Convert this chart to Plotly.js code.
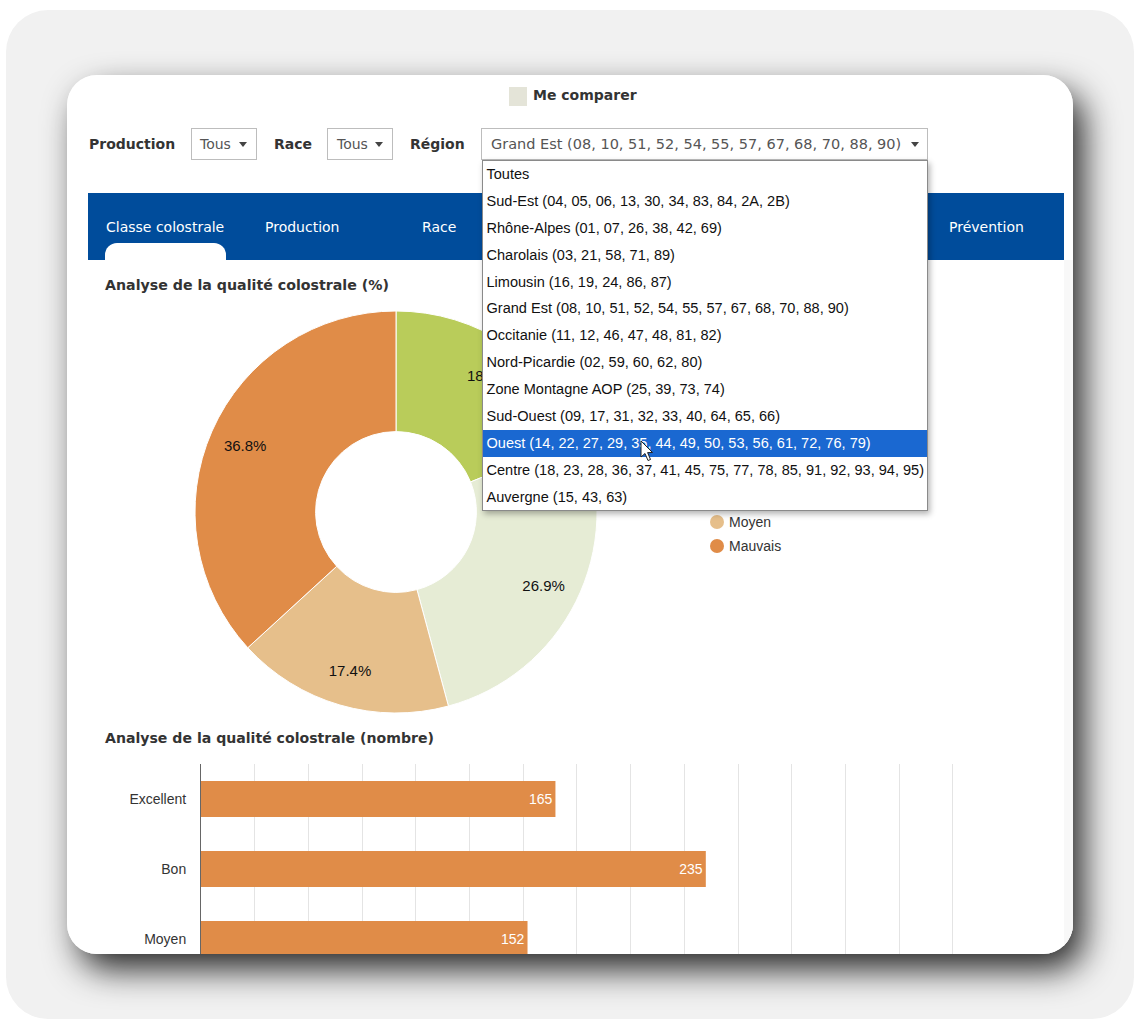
<!DOCTYPE html>
<html lang="fr"><head><meta charset="utf-8">
<script src="https://cdn.plot.ly/plotly-3.0.1.min.js"></script>
<style>
html,body{margin:0;padding:0;background:#fff;width:1140px;height:1029px;overflow:hidden}
#outer{position:absolute;left:6px;top:10px;width:1128px;height:1009px;background:#f1f1f1;border-radius:42px}
#shadow{position:absolute;left:67px;top:75px;width:1006px;height:879px;border-radius:30px;box-shadow:11px 16px 34px -1px rgba(0,0,0,.85)}
#card{position:absolute;left:67px;top:75px;width:1006px;height:879px;border-radius:30px;background:#fff;overflow:hidden}
#card>*{position:absolute}
.v{font-family:"DejaVu Sans",sans-serif;font-size:14px;white-space:nowrap}
.b{font-weight:bold;color:#333}
.sel{box-sizing:border-box;background:#fff;border:1px solid #bdbdbd;height:32px;line-height:30px;color:#555;font-family:"DejaVu Sans",sans-serif;font-size:14px;white-space:nowrap}
.caret{position:absolute;top:13px;width:0;height:0;border-left:4.5px solid transparent;border-right:4.5px solid transparent;border-top:5px solid #444}
#dd{box-sizing:border-box;left:415px;top:85px;width:446px;height:351px;background:#fff;border:1px solid #8a8a8a;box-shadow:2px 3px 6px rgba(0,0,0,.3);z-index:5}
#dd div{height:26.9px;line-height:26.9px;padding-left:3.5px;font-family:"Liberation Sans",Arial,sans-serif;font-size:14.55px;color:#111;white-space:nowrap;box-sizing:border-box}
#dd div.on{background:#1a68d1;color:#fff}
#band{left:21px;top:118px;width:976px;height:67px;background:#004c9b}
#band span{position:absolute;top:26px;line-height:16px;color:#fff;font-family:"DejaVu Sans",sans-serif;font-size:14px;white-space:nowrap}
#notch{position:absolute;left:17px;top:50px;width:121px;height:17px;background:#fff;border-radius:12px 12px 0 0}
#strip{left:997px;top:185px;width:9px;height:694px;background:#f8f8f8}
#pie{left:21px;top:187px;width:976px;height:468px}
#bars{left:21px;top:650px;width:976px;height:329px}
#cursor{left:573px;top:365px;z-index:6}
</style></head><body>
<div id="outer"></div><div id="shadow"></div>
<div id="card">
  <div id="strip"></div>
  <div style="left:442px;top:12px;width:18px;height:19px;background:#e4e4d8"></div>
  <div class="v b" style="left:466px;top:12px;line-height:17px;font-size:14px">Me comparer</div>
  <div class="v b" style="left:22px;top:61px;line-height:17px">Production</div>
  <div class="sel" style="left:124px;top:53px;width:66px;padding-left:8px">Tous<span class="caret" style="left:47px"></span></div>
  <div class="v b" style="left:207px;top:61px;line-height:17px">Race</div>
  <div class="sel" style="left:260px;top:53px;width:66px;padding-left:9px">Tous<span class="caret" style="left:47px"></span></div>
  <div class="v b" style="left:343px;top:61px;line-height:17px">Région</div>
  <div class="sel" id="regsel" style="left:414px;top:53px;width:447px;padding-left:9px;font-size:14.5px"></div>
  <div id="band"><div id="notch"></div></div>
  <div id="pie"></div>
  <div id="bars"></div>
  <div id="dd"></div>
  <svg id="cursor" width="16" height="24" viewBox="0 0 16 24"><path d="M1 1 L1 17 L5 13.5 L8 20.5 L10.5 19.5 L7.6 12.6 L12.5 12.5 Z" fill="#fff" stroke="#222" stroke-width="1"/></svg>
</div>
<script>
const categories = ["Excellent", "Bon", "Moyen", "Mauvais"];
const percents = [18.9, 26.9, 17.4, 36.8];
const sliceColors = ["#b9cc5a", "#e6ecd5", "#e6bf8b", "#e08c48"];
const legendCategories = ["Moyen", "Mauvais"];
const legendColors = ["#e6bf8b", "#e08c48"];
const legendRows = [260, 284];
const barCategories = ["Excellent", "Bon", "Moyen"];
const counts = [165, 235, 152];
const barColor = "#e08c48";
const pieTitle = "Analyse de la qualité colostrale (%)";
const barTitle = "Analyse de la qualité colostrale (nombre)";
const tabs = [["Classe colostrale", 18], ["Production", 177], ["Race", 334], ["Prévention", 861]];
const regions = ["Toutes",
 "Sud-Est (04, 05, 06, 13, 30, 34, 83, 84, 2A, 2B)",
 "Rhône-Alpes (01, 07, 26, 38, 42, 69)",
 "Charolais (03, 21, 58, 71, 89)",
 "Limousin (16, 19, 24, 86, 87)",
 "Grand Est (08, 10, 51, 52, 54, 55, 57, 67, 68, 70, 88, 90)",
 "Occitanie (11, 12, 46, 47, 48, 81, 82)",
 "Nord-Picardie (02, 59, 60, 62, 80)",
 "Zone Montagne AOP (25, 39, 73, 74)",
 "Sud-Ouest (09, 17, 31, 32, 33, 40, 64, 65, 66)",
 "Ouest (14, 22, 27, 29, 35, 44, 49, 50, 53, 56, 61, 72, 76, 79)",
 "Centre (18, 23, 28, 36, 37, 41, 45, 75, 77, 78, 85, 91, 92, 93, 94, 95)",
 "Auvergne (15, 43, 63)"];
const selectedRegion = 5, hoveredRegion = 10;

document.getElementById("regsel").innerHTML = regions[selectedRegion] + '<span class="caret" style="left:429px"></span>';
const dd = document.getElementById("dd");
regions.forEach((r, i) => { const d = document.createElement("div"); d.textContent = r; if (i === hoveredRegion) d.className = "on"; dd.appendChild(d); });
const band = document.getElementById("band");
tabs.forEach(t => { const s = document.createElement("span"); s.textContent = t[0]; s.style.left = t[1] + "px"; band.appendChild(s); });

const W = 976, H = 468, cx = 308, cy = 250, R = 201;
const dom = {x: [(cx - R) / W, (cx + R) / W], y: [(H - cy - R) / H, (H - cy + R) / H]};
const pieBase = {type: "pie", labels: categories, values: percents, sort: false, direction: "clockwise", rotation: 0, domain: dom};
Plotly.newPlot("pie", [
  Object.assign({}, pieBase, {hole: 0.4, textinfo: "none", hoverinfo: "label+percent",
    marker: {colors: sliceColors, line: {color: "#fff", width: 1}}}),
  Object.assign({}, pieBase, {hole: 0.64, textinfo: "percent", textposition: "inside", insidetextorientation: "horizontal",
    texttemplate: "%{percent:.1%}", insidetextfont: {family: "Liberation Sans, Arial, sans-serif", size: 15, color: "#111"},
    hoverinfo: "skip", marker: {colors: categories.map(() => "rgba(0,0,0,0)"), line: {width: 0}}})
], {
  width: W, height: H, margin: {l: 0, r: 0, t: 0, b: 0}, showlegend: false,
  paper_bgcolor: "rgba(0,0,0,0)",
  title: {text: "<b>" + pieTitle + "</b>", x: 17 / W, xanchor: "left", xref: "container", y: 1 - 23 / H, yanchor: "middle", yref: "container",
    font: {family: "DejaVu Sans, sans-serif", size: 14.2, color: "#333"}},
  shapes: legendCategories.map((c, i) => ({type: "circle", xref: "paper", yref: "paper", xsizemode: "pixel", ysizemode: "pixel",
    xanchor: 629 / W, yanchor: 1 - legendRows[i] / H, x0: -7, x1: 7, y0: -7, y1: 7, fillcolor: legendColors[i], line: {width: 0}})),
  annotations: legendCategories.map((c, i) => ({text: c, xref: "paper", yref: "paper", x: 638.5 / W, y: 1 - legendRows[i] / H, xanchor: "left", yanchor: "middle",
    showarrow: false, font: {family: "Liberation Sans, Arial, sans-serif", size: 14, color: "#333"}}))
}, {displayModeBar: false, staticPlot: true});

Plotly.newPlot("bars", [{
  type: "bar", orientation: "h", y: barCategories, x: counts, text: counts.map(String), textposition: "inside", insidetextanchor: "end",
  textangle: 0, constraintext: "none", insidetextfont: {family: "Liberation Sans, Arial, sans-serif", size: 14, color: "#fff"},
  marker: {color: barColor}
}], {
  width: 976, height: 329, margin: {l: 112.5, r: 108.8, t: 38.5, b: 10}, showlegend: false, bargap: 0.486,
  paper_bgcolor: "rgba(0,0,0,0)", plot_bgcolor: "rgba(0,0,0,0)",
  title: {text: "<b>" + barTitle + "</b>", x: 17 / 976, xanchor: "left", xref: "container", y: 1 - 13 / 329, yanchor: "middle", yref: "container",
    font: {family: "DejaVu Sans, sans-serif", size: 14.1, color: "#333"}},
  xaxis: {range: [0, 351], dtick: 25, showticklabels: false, showgrid: true, gridcolor: "#e4e4e4", gridwidth: 1, zeroline: false, showline: false, ticks: ""},
  yaxis: {categoryorder: "array", categoryarray: categories, range: [3.5, -0.5], showgrid: false, zeroline: false, showline: true, linecolor: "#666", linewidth: 1,
    ticks: "", ticklabelstandoff: 11, tickfont: {family: "Liberation Sans, Arial, sans-serif", size: 14, color: "#333"}}
}, {displayModeBar: false, staticPlot: true});
</script>
</body></html>
